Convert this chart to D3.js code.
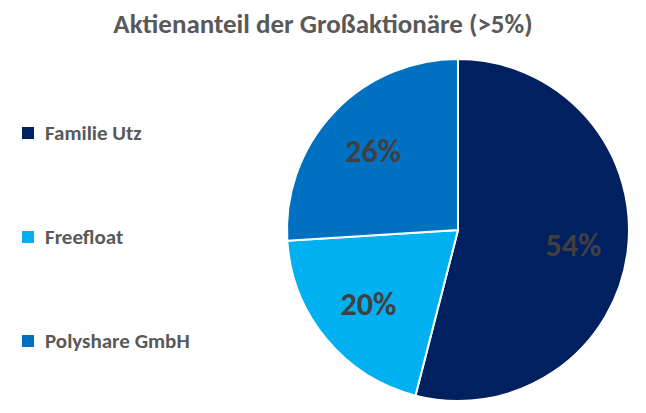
<!DOCTYPE html>
<html><head><meta charset="utf-8">
<script src="https://cdn.jsdelivr.net/npm/d3@7"></script>
<style>body{margin:0;background:#fff}</style>
</head><body>
<svg id="chart" width="646" height="413"></svg>
<script>
const names = ["Familie Utz", "Freefloat", "Polyshare GmbH"];
const shares = [54, 20, 26];
const colors = ["#002060", "#00B0F0", "#0070C0"];
const legendOrder = [0, 1, 2];

const svg = d3.select("#chart");
const font = "Calibri, Carlito, 'Open Sans', 'Liberation Sans', sans-serif";

svg.append("text")
  .attr("x", 323).attr("y", 33)
  .attr("text-anchor", "middle")
  .attr("fill", "#595959")
  .style("font-family", font).style("font-size", "27px").style("font-weight", "bold")
  .text("Aktienanteil der Großaktionäre (>5%)");

const cx = 458, cy = 230, r = 171;
const pie = d3.pie().sort(null).value(d => d)(shares);
const arc = d3.arc().innerRadius(0).outerRadius(r);
const labelArc = d3.arc().innerRadius(r * 0.68).outerRadius(r * 0.68);

const g = svg.append("g").attr("transform", `translate(${cx},${cy})`);
g.selectAll("path").data(pie).join("path")
  .attr("d", arc)
  .attr("fill", (d, i) => colors[i])
  .attr("stroke", "#fff").attr("stroke-width", 2);

g.selectAll("text").data(pie).join("text")
  .attr("transform", d => `translate(${labelArc.centroid(d)})`)
  .attr("text-anchor", "middle").attr("dy", "0.35em")
  .attr("fill", "#404040")
  .style("font-family", font).style("font-size", "32px").style("font-weight", "bold")
  .text(d => d.data + "%");

// legend
const legendY = d3.scalePoint().domain(legendOrder).range([133, 341]);
const leg = svg.append("g").selectAll("g").data(legendOrder).join("g")
  .attr("transform", i => `translate(22,${legendY(i)})`);
leg.append("rect").attr("x", 0).attr("y", -6).attr("width", 12).attr("height", 12)
  .attr("fill", i => colors[i]);
leg.append("text").attr("x", 23).attr("dy", "0.35em")
  .attr("fill", "#595959")
  .style("font-family", font).style("font-size", "21px").style("font-weight", "bold")
  .text(i => names[i]);
</script>
</body></html>
